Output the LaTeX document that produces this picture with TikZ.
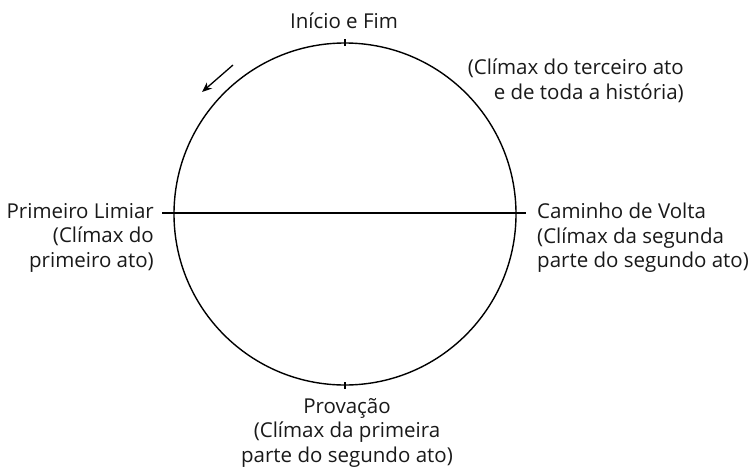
\documentclass[tikz,border=0pt]{standalone}
\usepackage{fontspec}
\setmainfont{Open Sans}
\usepackage{tikz}
\usetikzlibrary{positioning,arrows.meta}

\tikzset{
  lbl/.style={inner sep=0pt, font=\fontsize{20.5}{24.6}\selectfont, text=black!90},
  tick/.style={line width=1.8pt}
}

\begin{document}
\begin{tikzpicture}[x=1pt,y=1pt]
            \useasboundingbox (0,0) rectangle (752,-466);

            \coordinate (O) at (345,-214);
            \draw [line width=1.4pt] (O) circle (171);

            \coordinate (W) at (162,-213);
            \coordinate (E) at (526,-213);
            \draw [line width=2.6pt] (W) -- (E);

            \coordinate (N) at (345,-43);
            \coordinate (S) at (345,-385);
            \draw [tick] ([yshift=-3]N) -- ([yshift=4]N);
            \draw [tick] ([yshift=-4]S) -- ([yshift=3]S);

            \coordinate (a1) at (233,-65);
            \coordinate (a2) at (202,-92);
            \draw [line width=1.3pt, -{Stealth[length=10pt,width=8pt]}] (a1) -- (a2);

            \node [lbl] (top) at (344,-21) {Início e Fim};
            \node [lbl, align=right, anchor=north east] (topright) at (684,-59) {(Clímax do terceiro ato\\e de toda a história)};
            \node [lbl, align=right, anchor=north east] (left) at (154,-203) {Primeiro Limiar\\(Clímax do\\primeiro ato)};
            \node [lbl, align=left, anchor=north west] (right) at (537,-203) {Caminho de Volta\\(Clímax da segunda\\parte do segundo ato)};
            \node [lbl, align=center, anchor=north] (bottom) at (347,-398) {Provação\\(Clímax da primeira\\parte do segundo ato)};
        \end{tikzpicture}
\end{document}
